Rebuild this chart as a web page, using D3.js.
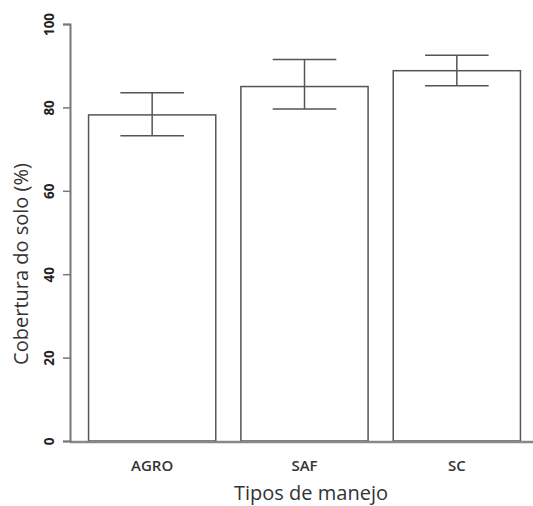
<!DOCTYPE html>
<html>
<head>
<meta charset="utf-8">
<script src="https://cdn.jsdelivr.net/npm/d3@7"></script>
<style>
  html, body { margin: 0; padding: 0; background: #fff; }
  svg { display: block; }
</style>
</head>
<body>
<svg id="chart" width="533" height="506"></svg>
<script>
const categories = ["AGRO", "SAF", "SC"];
const means = [78.2, 85.0, 88.8];
const upper = [83.5, 91.5, 92.5];
const lower = [73.2, 79.6, 85.2];
const yTicks = [0, 20, 40, 60, 80, 100];
const yTitle = "Cobertura do solo (%)";
const xTitle = "Tipos de manejo";

const svg = d3.select("#chart");
const font = "'Open Sans', 'DejaVu Sans', sans-serif";

const y = d3.scaleLinear().domain([0, 100]).range([441, 24]);
const x = d3.scaleBand().domain(categories).range([76, 533])
  .paddingInner(0.165).paddingOuter(0.0825);

// bars
svg.append("g").selectAll("rect").data(categories).join("rect")
  .attr("x", d => x(d))
  .attr("y", (d, i) => y(means[i]))
  .attr("width", x.bandwidth())
  .attr("height", (d, i) => y(0) - y(means[i]))
  .attr("fill", "#fff")
  .attr("stroke", "#555")
  .attr("stroke-width", 1.5);

// error bars
const capW = x.bandwidth() / 2;
const eb = svg.append("g").attr("stroke", "#555").attr("stroke-width", 1.5);
categories.forEach((c, i) => {
  const cx = x(c) + x.bandwidth() / 2;
  eb.append("line").attr("x1", cx).attr("x2", cx).attr("y1", y(upper[i])).attr("y2", y(lower[i]));
  eb.append("line").attr("x1", cx - capW / 2).attr("x2", cx + capW / 2).attr("y1", y(upper[i])).attr("y2", y(upper[i]));
  eb.append("line").attr("x1", cx - capW / 2).attr("x2", cx + capW / 2).attr("y1", y(lower[i])).attr("y2", y(lower[i]));
});

// x baseline
svg.append("line").attr("x1", 70).attr("x2", 533).attr("y1", y(0) + 1).attr("y2", y(0) + 1)
  .attr("stroke", "#888").attr("stroke-width", 2.5);

// y axis
const yAxis = d3.axisLeft(y).tickValues(yTicks).tickSize(7).tickFormat(d3.format("d"));
const gy = svg.append("g").attr("transform", "translate(70,0)").call(yAxis);
gy.select(".domain").attr("stroke", "#777").attr("stroke-width", 2);
gy.selectAll(".tick line").attr("stroke", "#777").attr("stroke-width", 1.5);
gy.selectAll(".tick text")
  .attr("x", 0).attr("dy", 0)
  .attr("transform", "translate(-21,0) rotate(-90)")
  .attr("text-anchor", "middle")
  .attr("dominant-baseline", "central")
  .attr("font-family", font)
  .attr("font-weight", "bold")
  .attr("font-size", 13.5)
  .attr("fill", "#222");

// x labels
svg.append("g").selectAll("text").data(categories).join("text")
  .attr("x", d => x(d) + x.bandwidth() / 2)
  .attr("y", 471)
  .attr("text-anchor", "middle")
  .attr("font-family", font)
  .attr("font-weight", 600)
  .attr("font-size", 15)
  .attr("fill", "#333")
  .text(d => d);

// titles
svg.append("text")
  .attr("transform", "translate(20,264) rotate(-90)")
  .attr("text-anchor", "middle")
  .attr("dominant-baseline", "central")
  .attr("font-family", font)
  .attr("font-size", 20)
  .attr("fill", "#333")
  .text(yTitle);

svg.append("text")
  .attr("x", 311).attr("y", 500)
  .attr("text-anchor", "middle")
  .attr("font-family", font)
  .attr("font-size", 20)
  .attr("fill", "#333")
  .text(xTitle);
</script>
</body>
</html>
